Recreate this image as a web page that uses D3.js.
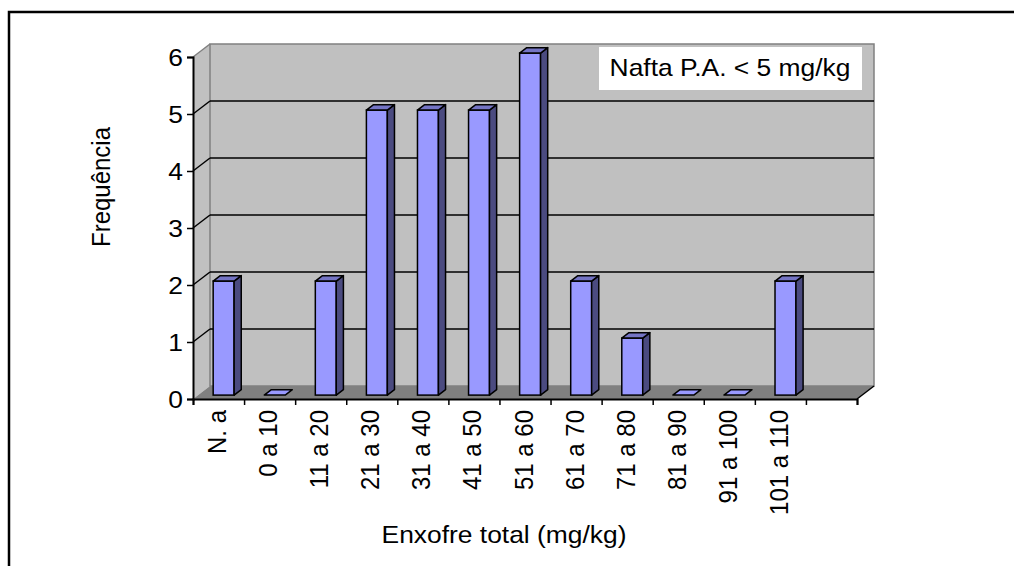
<!DOCTYPE html>
<html>
<head>
<meta charset="utf-8">
<script src="https://cdn.jsdelivr.net/npm/d3@7"></script>
<style>
  html, body { margin: 0; background: #fff; overflow: hidden; }
  svg { display: block; }
  text { font-family: "Liberation Sans", Arial, sans-serif; fill: #000; }
</style>
</head>
<body>
<script>
// dados do gráfico
var categories = ["N. a", "0 a 10", "11 a 20", "21 a 30", "31 a 40", "41 a 50",
                  "51 a 60", "61 a 70", "71 a 80", "81 a 90", "91 a 100", "101 a 110"];
var frequencies = [2, 0, 2, 5, 5, 5, 6, 2, 1, 0, 0, 2];
var yTicks = [0, 1, 2, 3, 4, 5, 6];
var yTitle = "Frequência";
var xTitle = "Enxofre total (mg/kg)";
var note = "Nafta P.A. < 5 mg/kg";

var width = 1014;
var height = 566;
var stretch = 1.1;   // o original está um pouco esticado na horizontal
var fontSize = 24;

var svg = d3.select("body").append("svg")
  .attr("width", width)
  .attr("height", height);

// moldura (só aparecem a borda de cima e a da esquerda)
svg.append("path")
  .attr("d", "M9," + height + "L9,12L" + width + ",12")
  .attr("fill", "none")
  .attr("stroke", "#000")
  .attr("stroke-width", 2.5);

// escalas (plano da frente)
var slots = d3.range(categories.length + 1); // uma posição vazia no fim, como no original
var x = d3.scaleBand().domain(slots).range([193, 857]).padding(0);
var xIndex = d3.scaleLinear().domain([0, slots.length]).range([193, 857]);
var y = d3.scaleLinear().domain([0, 6]).range([399, 57]);

var dx = 17, dy = -13;          // profundidade das paredes
var f1 = 0.3, f2 = 0.72;        // frente e fundo das barras (fração da profundidade)

var x0 = x.range()[0], x1 = x.range()[1];

// parede lateral
svg.append("path")
  .attr("d", "M" + x0 + "," + y(6) + "L" + (x0 + dx) + "," + (y(6) + dy) +
             "L" + (x0 + dx) + "," + (y(0) + dy) + "L" + x0 + "," + y(0) + "Z")
  .attr("fill", "#c0c0c0");

// parede do fundo
svg.append("rect")
  .attr("x", x0 + dx).attr("y", y(6) + dy)
  .attr("width", x1 - x0).attr("height", y(0) - y(6))
  .attr("fill", "#c0c0c0")
  .attr("stroke", "#808080")
  .attr("stroke-width", 1.5);

// piso
svg.append("path")
  .attr("d", "M" + x0 + "," + y(0) + "L" + (x0 + dx) + "," + (y(0) + dy) +
             "L" + (x1 + dx) + "," + (y(0) + dy) + "L" + x1 + "," + y(0) + "Z")
  .attr("fill", "#808080");

// borda de cima da parede lateral
svg.append("line")
  .attr("x1", x0).attr("y1", y(6))
  .attr("x2", x0 + dx).attr("y2", y(6) + dy)
  .attr("stroke", "#808080").attr("stroke-width", 1.5);

// linhas de grade
var grid = yTicks.filter(function(d){ return d > 0 && d < 6; });
svg.selectAll(".gback").data(grid).enter().append("line")
  .attr("x1", x0 + dx).attr("x2", x1 + dx)
  .attr("y1", function(d){ return y(d) + dy; })
  .attr("y2", function(d){ return y(d) + dy; })
  .attr("stroke", "#000").attr("stroke-width", 1.5);
svg.selectAll(".gside").data(grid).enter().append("line")
  .attr("x1", x0).attr("x2", x0 + dx)
  .attr("y1", function(d){ return y(d); })
  .attr("y2", function(d){ return y(d) + dy; })
  .attr("stroke", "#000").attr("stroke-width", 1.5);

// borda direita do piso
svg.append("line")
  .attr("x1", x1).attr("y1", y(0))
  .attr("x2", x1 + dx).attr("y2", y(0) + dy)
  .attr("stroke", "#000").attr("stroke-width", 1.5);

// barras 3D
var step = x.step();
var bw = step * 0.41;
var ax = dx * f1, ay = dy * f1, bx = dx * f2, by = dy * f2;

function pts(a){ return a.map(function(p){ return p.join(","); }).join(" "); }

var bars = svg.selectAll(".bar").data(frequencies).enter().append("g");

bars.each(function(v, i){
  var g = d3.select(this);
  var l = x(i) + step * 0.295;
  var r = l + bw;
  var yt = y(v), yb = y(0);
  if (v > 0) {
    g.append("rect")
      .attr("x", l + ax).attr("y", yt + ay)
      .attr("width", bw).attr("height", yb - yt)
      .attr("fill", "#9999ff").attr("stroke", "#000").attr("stroke-width", 1.5);
    g.append("polygon")
      .attr("points", pts([[r + ax, yt + ay], [r + bx, yt + by], [r + bx, yb + by], [r + ax, yb + ay]]))
      .attr("fill", "#4b4b80").attr("stroke", "#000").attr("stroke-width", 1.5)
      .attr("stroke-linejoin", "round");
  }
  g.append("polygon")
    .attr("points", pts([[l + ax, yt + ay], [l + bx, yt + by], [r + bx, yt + by], [r + ax, yt + ay]]))
    .attr("fill", v > 0 ? "#7474c4" : "#9999ff").attr("stroke", "#000").attr("stroke-width", 1.5)
    .attr("stroke-linejoin", "round");
});

// eixo Y
var yAxis = svg.append("g")
  .attr("transform", "translate(" + x0 + ",0)")
  .call(d3.axisLeft(y).tickValues(yTicks).tickSize(6).tickFormat(d3.format("d")));
yAxis.select(".domain").attr("stroke", "#000").attr("stroke-width", 2);
yAxis.selectAll(".tick line").attr("stroke", "#000").attr("stroke-width", 1.5);
yAxis.selectAll(".tick text")
  .attr("x", null)
  .attr("transform", "translate(-10,0) scale(" + stretch + ",1)")
  .attr("dy", "0.36em")
  .style("font-size", fontSize + "px")
  .style("font-family", "Liberation Sans, Arial, sans-serif");

// eixo X (marcas nas divisões)
var xAxis = svg.append("g")
  .attr("transform", "translate(0," + y(0) + ")")
  .call(d3.axisBottom(xIndex).tickValues(d3.range(slots.length + 1)).tickSize(6).tickFormat(""));
xAxis.select(".domain").attr("stroke", "#000").attr("stroke-width", 2);
xAxis.selectAll(".tick line").attr("stroke", "#000").attr("stroke-width", 1.5);

// rótulos das categorias
svg.selectAll(".xlab").data(categories).enter().append("text")
  .attr("transform", function(d, i){
    return "translate(" + (x(i) + step / 2 - 2) + ",410) scale(" + stretch + ",1) rotate(-90)";
  })
  .attr("text-anchor", "end")
  .attr("dy", "0.36em")
  .style("font-size", fontSize + "px")
  .text(function(d){ return d; });

// títulos
svg.append("text")
  .attr("transform", "translate(110,187) scale(" + stretch + ",1) rotate(-90)")
  .attr("text-anchor", "middle")
  .style("font-size", fontSize + "px")
  .text(yTitle);

svg.append("text")
  .attr("transform", "translate(504,543) scale(" + stretch + ",1)")
  .attr("text-anchor", "middle")
  .style("font-size", fontSize + "px")
  .text(xTitle);

// caixa de texto
svg.append("rect")
  .attr("x", 599).attr("y", 47)
  .attr("width", 263).attr("height", 43)
  .attr("fill", "#fff");
svg.append("text")
  .attr("transform", "translate(730,76) scale(" + stretch + ",1)")
  .attr("text-anchor", "middle")
  .style("font-size", fontSize + "px")
  .text(note);
</script>
</body>
</html>
